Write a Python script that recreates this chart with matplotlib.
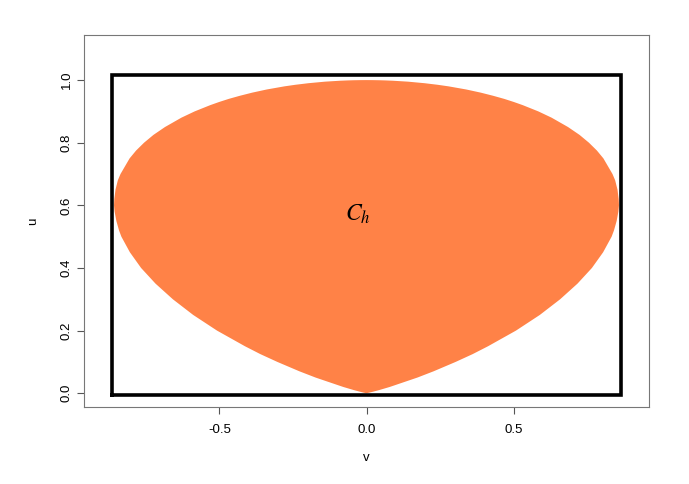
import matplotlib
matplotlib.use("Agg")
import matplotlib.pyplot as plt

# boundary of C_h (right half): u level -> max |v|
u_pts = [0.0, 0.002, 0.005, 0.01, 0.02, 0.05, 0.07, 0.1, 0.125, 0.15, 0.2,
         0.25, 0.3, 0.35, 0.4, 0.45, 0.5, 0.52, 0.55, 0.58, 0.6, 0.62, 0.65,
         0.68, 0.7, 0.75, 0.775, 0.8, 0.825, 0.85, 0.88, 0.9, 0.92, 0.93,
         0.94, 0.95, 0.96, 0.97, 0.98, 0.985, 0.99, 0.995, 0.998, 0.999,
         0.9995, 0.9999, 1.0]
v_pts = [0.0, 0.010, 0.023, 0.043, 0.079, 0.173, 0.228, 0.303, 0.361, 0.413,
         0.508, 0.589, 0.658, 0.717, 0.766, 0.804, 0.833, 0.841, 0.850, 0.856,
         0.858, 0.857, 0.853, 0.845, 0.836, 0.805, 0.783, 0.756, 0.724, 0.685,
         0.629, 0.584, 0.531, 0.501, 0.468, 0.430, 0.388, 0.339, 0.279, 0.242,
         0.198, 0.141, 0.089, 0.063, 0.045, 0.020, 0.0]

# bounding rectangle
rect_v = [-0.866, 0.866]
rect_u = [-0.005, 1.015]

xticks = [-0.5, 0.0, 0.5]
yticks = [0.0, 0.2, 0.4, 0.6, 0.8, 1.0]

plt.rcParams["font.family"] = ["Liberation Sans", "DejaVu Sans"]
plt.rcParams["mathtext.fontset"] = "stix"

fig = plt.figure(figsize=(6.89, 4.84), dpi=100)
ax = fig.add_axes([84 / 689, 1 - 407 / 484, 565 / 689, 372 / 484])

xs = v_pts + [-v for v in v_pts[::-1]]
ys = u_pts + u_pts[::-1]
ax.fill(xs, ys, color="#FF8247", lw=0)

ax.plot([rect_v[0], rect_v[1], rect_v[1], rect_v[0], rect_v[0]],
        [rect_u[0], rect_u[0], rect_u[1], rect_u[1], rect_u[0]],
        color="black", lw=2.6, solid_joinstyle="miter")

ax.text(-0.03, 0.57, r"$C_h$", fontsize=17, ha="center", va="center")

ax.set_xlim(-0.96, 0.96)
ax.set_ylim(-0.044, 1.144)
ax.set_xticks(xticks)
ax.set_xticklabels(["-0.5", "0.0", "0.5"])
ax.set_yticks(yticks)
ax.set_yticklabels(["0.0", "0.2", "0.4", "0.6", "0.8", "1.0"],
                   rotation=90, va="center")
ax.tick_params(labelsize=9.5, length=5, color="#555555", width=0.8)
ax.tick_params(axis="x", pad=7)
ax.tick_params(axis="y", pad=3)
for s in ax.spines.values():
    s.set_color("#777777")
    s.set_linewidth(0.8)

ax.set_xlabel("v", fontsize=9.5, labelpad=12)
ax.set_ylabel("u", fontsize=9.5, labelpad=16)

fig.savefig("out.png", dpi=100)
